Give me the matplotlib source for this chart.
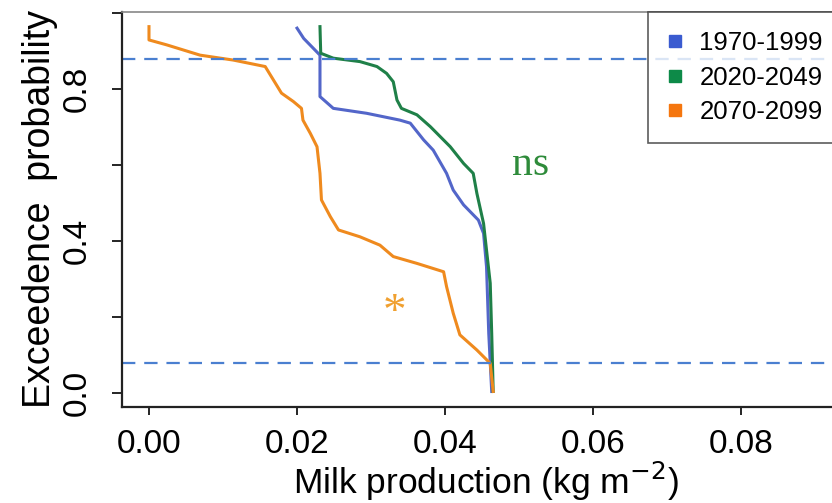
import matplotlib
matplotlib.use("Agg")
import matplotlib.pyplot as plt
from matplotlib.lines import Line2D

# exceedence curves
x_1970 = [0.0200, 0.0209, 0.0231, 0.0231, 0.0249, 0.0294, 0.0339, 0.0353, 0.0371,
          0.0384, 0.0402, 0.0411, 0.0425, 0.0445, 0.0452, 0.0456, 0.0459, 0.0463]
y_1970 = [0.960, 0.933, 0.889, 0.780, 0.749, 0.736, 0.718, 0.710, 0.666,
          0.639, 0.578, 0.534, 0.495, 0.455, 0.420, 0.332, 0.157, 0.004]

x_2020 = [0.0231, 0.0232, 0.0249, 0.0285, 0.0308, 0.0321, 0.0330, 0.0335, 0.0341,
          0.0362, 0.0380, 0.0407, 0.0425, 0.0438, 0.0443, 0.0452, 0.0456, 0.0461,
          0.0463, 0.0465]
y_2020 = [0.964, 0.894, 0.881, 0.872, 0.859, 0.841, 0.819, 0.771, 0.749,
          0.732, 0.701, 0.648, 0.604, 0.578, 0.525, 0.446, 0.376, 0.289,
          0.157, 0.004]

x_2070 = [0.0000, 0.0000, 0.0024, 0.0069, 0.0114, 0.0157, 0.0168, 0.0179, 0.0195,
          0.0206, 0.0208, 0.0218, 0.0227, 0.0231, 0.0233, 0.0245, 0.0256, 0.0285,
          0.0312, 0.0330, 0.0362, 0.0398, 0.0402, 0.0411, 0.0420, 0.0443, 0.0461,
          0.0465]
y_2070 = [0.964, 0.929, 0.916, 0.889, 0.876, 0.859, 0.824, 0.789, 0.767,
          0.749, 0.718, 0.683, 0.648, 0.578, 0.508, 0.464, 0.429, 0.411,
          0.389, 0.359, 0.341, 0.319, 0.280, 0.210, 0.153, 0.113, 0.078,
          0.004]

periods = ["1970-1999", "2020-2049", "2070-2099"]
line_colors = ["#5366c9", "#1f8048", "#ef8a1e"]
key_colors = ["#3a5bd0", "#0d8a48", "#f5760e"]
ref_levels = [0.88, 0.08]

xticks = [0.00, 0.02, 0.04, 0.06, 0.08]
yticks = [0.0, 0.2, 0.4, 0.6, 0.8, 1.0]
ytick_labels = ["0.0", "", "0.4", "", "0.8", ""]

plt.rcParams['font.family'] = ['Liberation Sans', 'DejaVu Sans']

fig = plt.figure(figsize=(8.32, 5.03), dpi=100)
ax = fig.add_axes([0.1466, 0.1909, 0.875, 0.7853])

for xs, ys, c in zip([x_1970, x_2020, x_2070], [y_1970, y_2020, y_2070], line_colors):
    ax.plot(xs, ys, color=c, lw=2.2, solid_joinstyle='round')

for lv in ref_levels:
    ax.axhline(lv, color="#4a7fd0", lw=1.6, dashes=(6, 4))

ax.text(0.0515, 0.60, "ns", color="#2e8b3a", fontsize=30,
        family=['Liberation Serif', 'DejaVu Serif'], ha='center', va='center')
ax.text(0.0332, 0.18, "*", color="#f0a030", fontsize=34,
        family=['Liberation Serif', 'DejaVu Serif'], ha='center', va='baseline')

ax.set_xlim(-0.00365, 0.0947)
ax.set_ylim(-0.0368, 1.0026)
ax.set_xticks(xticks)
ax.set_xticklabels(["%.2f" % v for v in xticks])
ax.set_yticks(yticks)
ax.set_yticklabels(ytick_labels, rotation=90, va='center')

ax.tick_params(axis='x', labelsize=24, length=6, width=1.2, pad=10)
ax.tick_params(axis='y', labelsize=24, length=7, width=1.2, pad=14)

for side in ['left', 'bottom']:
    ax.spines[side].set_color('#222222')
    ax.spines[side].set_linewidth(1.6)
ax.spines['top'].set_color('#888888')
ax.spines['top'].set_linewidth(1.2)
ax.spines['right'].set_visible(False)

ax.set_xlabel("Milk production (kg m$^{-2}$)", fontsize=25.5, labelpad=0)
ax.set_ylabel("Exceedence  probability", fontsize=27, labelpad=3)

handles = [Line2D([], [], marker='s', ls='none', color=c, markersize=8) for c in key_colors]
leg = fig.legend(handles, periods, loc='upper left', bbox_to_anchor=(648 / 832, 1 - 12 / 503),
                 fontsize=18.5, frameon=True, fancybox=False, borderpad=0.75,
                 handlelength=0.6, handletextpad=0.65, labelspacing=0.4,
                 borderaxespad=0)
leg.get_frame().set_edgecolor('#333333')
leg.get_frame().set_linewidth(1.2)

fig.savefig("out.png", dpi=100)
